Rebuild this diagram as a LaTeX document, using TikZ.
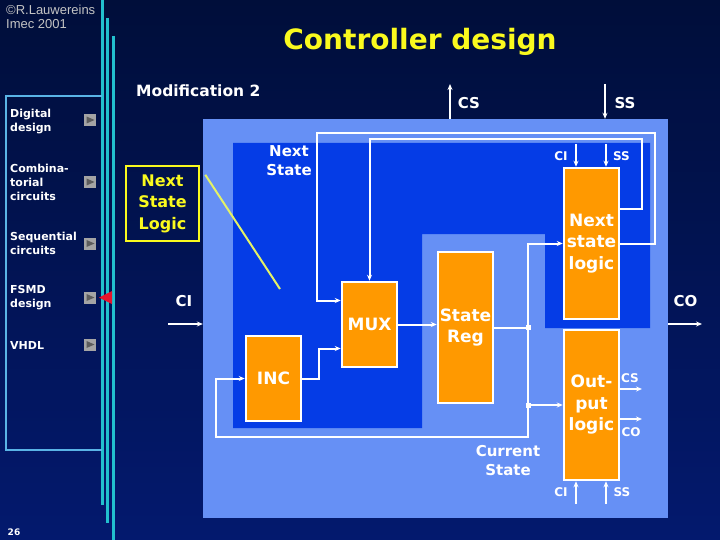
\documentclass[tikz,border=0pt]{standalone}
\usepackage{fontspec}
\setmainfont{DejaVu Sans}
\newfontfamily\creditfont{Liberation Sans}
\usepackage{tikz}
\usetikzlibrary{arrows.meta,positioning,calc}

\definecolor{navytop}{HTML}{000E3A}
\definecolor{navybot}{HTML}{03196E}
\definecolor{paleblue}{HTML}{6690F5}
\definecolor{midblue}{HTML}{053CE6}
\definecolor{blockorange}{HTML}{FF9900}
\definecolor{railcyan}{HTML}{22C0CE}
\definecolor{menuline}{HTML}{5AB4E6}
\definecolor{titleyellow}{HTML}{FAFA1E}
\definecolor{pointeryellow}{HTML}{E4F266}
\definecolor{creditgray}{HTML}{C4C4C4}
\definecolor{btngray}{HTML}{A4A4A4}
\definecolor{btndark}{HTML}{5C5C5C}
\definecolor{markred}{HTML}{E8142C}

\begin{document}
\begin{tikzpicture}[x=1pt, y=-1pt, >={Stealth[length=6pt, width=5pt]},
    block/.style={rectangle, draw=white, line width=2.5pt, fill=blockorange, text=white, align=center,
        minimum width=55pt, inner sep=0pt, font=\bfseries\fontsize{17}{21.5}\selectfont},
    wire/.style={white, line width=2pt},
    sig/.style={text=white, inner sep=0pt, font=\bfseries\fontsize{15}{18}\selectfont},
    subsig/.style={text=white, inner sep=0pt, font=\bfseries\fontsize{12}{14}\selectfont},
    lbl/.style={text=white, align=center, inner sep=0pt, font=\bfseries\fontsize{15}{19}\selectfont},
    menu/.style={anchor=north west, text=white, align=left, inner sep=0pt, font=\bfseries\fontsize{11}{14}\selectfont},
    btn/.style={rectangle, fill=btngray, minimum size=12pt, inner sep=0pt,
        path picture={\fill[btndark] ($(path picture bounding box.north west)+(2.5,2.5)$)
            -- ($(path picture bounding box.south west)+(2.5,-2.5)$)
            -- ($(path picture bounding box.east)+(-1.5,0)$) -- cycle;}},
    rail/.style={railcyan, line width=3pt},
    tap/.style={rectangle, fill=white, minimum size=5pt, inner sep=0pt}]

    % slide background
    \fill[top color=navytop, bottom color=navybot] (0,0) rectangle (720,540);
    \useasboundingbox (0,0) rectangle (720,540);
    \draw[rail] (102,0) -- (102,505);
    \draw[rail] (107,18) -- (107,523);
    \draw[rail] (113,36) -- (113,540);
    \draw[menuline, line width=1.2pt] (102,96) -- (6,96) -- (6,450) -- (102,450);

    \node[anchor=north west, text=creditgray, align=left, inner sep=0pt,
        font=\creditfont\fontsize{13}{14}\selectfont] (credit) at (6,5) {©R.Lauwereins\\Imec 2001};
    \node[anchor=base, text=titleyellow, font=\bfseries\fontsize{28}{32}\selectfont] (title) at (420,50) {Controller design};
    \node[anchor=base west, text=white, inner sep=0pt, font=\bfseries\fontsize{15.5}{18}\selectfont] (modif) at (136,97) {Modification 2};

    % menu
    \node[menu] (mdig) at (10,108.5) {Digital\\design};
    \node[menu] (mcomb) at (10,163.5) {Combina-\\torial\\circuits};
    \node[menu] (mseq) at (10,231.5) {Sequential\\circuits};
    \node[menu] (mfsmd) at (10,285) {FSMD\\design};
    \node[menu] (mvhdl) at (10,341) {VHDL};
    \node[btn] (bdig) at (90,120) {};
    \node[btn] (bcomb) at (90,182) {};
    \node[btn] (bseq) at (90,243.5) {};
    \node[btn] (bfsmd) at (90,297.5) {};
    \node[btn] (bvhdl) at (90,344.5) {};
    \fill[markred] (99,297.5) -- (112,291) -- (112,304) -- cycle;
    \node[anchor=base, text=white, font=\bfseries\fontsize{9}{10}\selectfont] (pagenr) at (14,535) {26};

    % controller
    \node[fill=paleblue, minimum width=465pt, minimum height=399pt, inner sep=0pt] (ctrl) at (435.5,318.5) {};
    \fill[midblue] (233,143) -- (650,143) -- (650,328) -- (545,328) -- (545,234) -- (422,234) -- (422,428) -- (233,428) -- cycle;
    \node[lbl] (nslbl) at (289,161) {Next\\State};
    \node[lbl] (cslbl) at (508,461) {Current\\State};

    \node[block, minimum height=151pt] (nsl) at (591.5,243.5) {Next\\state\\logic};
    \node[block, minimum height=150pt] (outl) at (591.5,405) {Out-\\put\\logic};
    \node[block, minimum height=151pt] (sreg) at (465.5,327.5) {State\\Reg};
    \node[block, minimum height=85pt] (mux) at (369.5,324.5) {MUX};
    \node[block, minimum height=85pt] (inc) at (273.5,378.5) {INC};

    \node[draw=titleyellow, line width=2.5pt, text=titleyellow, align=center, minimum width=73pt, minimum height=75pt,
        inner sep=0pt, font=\bfseries\fontsize{16}{21.5}\selectfont] (nslabel) at (162.5,203.5) {Next\\State\\Logic};
    \coordinate (nspoint) at (280,289);
    \draw[pointeryellow, line width=2pt] ($(nslabel.north east)+(5,10)$) -- (nspoint);

    % feedback loops
    \coordinate (railA) at (655,133);
    \coordinate (railB) at (642,139);
    \draw[wire,->] (nsl.east) -| (railA) -| ([xshift=-24pt,yshift=24pt]mux.west) -- ([yshift=24pt]mux.west);
    \draw[wire,->] ([yshift=34pt]nsl.east) -| (railB) -| (mux.north);
    \draw[wire,->] (inc.east) -- ++(17,0) |- ([yshift=-24pt]mux.west);
    \draw[wire,->] (mux.east) -- (sreg.west |- mux.east);

    % current state bus
    \coordinate (tap) at (528,437);
    \coordinate (incfeed) at (216,437);
    \draw[wire] (sreg.east) -- (sreg.east -| tap) node[tap]{};
    \draw[wire,->] (sreg.east -| tap) |- (nsl.west);
    \draw[wire,->] (outl.west -| tap) node[tap]{} -- (outl.west);
    \draw[wire,->] (sreg.east -| tap) -- (tap) -- (incfeed) |- (inc.west);

    % external signals
    \coordinate (csout) at (450,84);
    \coordinate (ssin) at (605,84);
    \coordinate (ciin) at (168,324);
    \coordinate (coout) at (702,324);
    \draw[wire,->] (csout |- ctrl.north) -- (csout);
    \draw[wire,->] (ssin) -- (ssin |- ctrl.north);
    \draw[wire,->] (ciin) -- (ciin -| ctrl.west);
    \draw[wire,->] (coout -| ctrl.east) -- (coout);
    \node[sig] (lcs) at (469,103) {CS};
    \node[sig] (lss) at (625,103) {SS};
    \node[sig] (lci) at (184,301) {CI};
    \node[sig] (lco) at (685.5,301) {CO};

    % block signals
    \coordinate (nslci) at (576,144);
    \coordinate (nslss) at (606,144);
    \coordinate (olcs) at (642,389);
    \coordinate (olco) at (642,419);
    \coordinate (olci) at (576,504);
    \coordinate (olss) at (606,504);
    \draw[wire,->] (nslci) -- (nslci |- nsl.north);
    \draw[wire,->] (nslss) -- (nslss |- nsl.north);
    \draw[wire,->] (olcs -| outl.east) -- (olcs);
    \draw[wire,->] (olco -| outl.east) -- (olco);
    \draw[wire,->] (olci) -- (olci |- outl.south);
    \draw[wire,->] (olss) -- (olss |- outl.south);
    \node[subsig] (nci) at (561,156) {CI};
    \node[subsig] (nss) at (621.5,156) {SS};
    \node[subsig] (ocs) at (630,378) {CS};
    \node[subsig] (oco) at (631,432) {CO};
    \node[subsig] (oci) at (561,492) {CI};
    \node[subsig] (oss) at (622,492) {SS};
\end{tikzpicture}
\end{document}
